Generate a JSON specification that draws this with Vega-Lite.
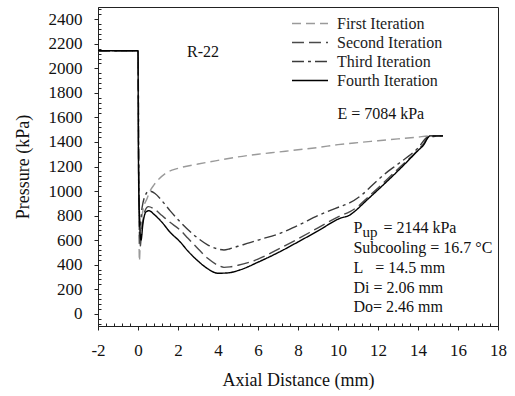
{
  "$schema": "https://vega.github.io/schema/vega-lite/v6.json",
  "width": 400,
  "height": 319,
  "autosize": "none",
  "padding": {"left": 98, "top": 7, "right": 17, "bottom": 70},
  "background": "white",
  "config": {
    "view": {"stroke": "#222", "strokeWidth": 1},
    "font": "Liberation Serif",
    "axis": {
      "grid": false,
      "domainColor": "#222",
      "tickColor": "#222",
      "labelFont": "Liberation Serif",
      "labelFontSize": 17,
      "labelColor": "#111",
      "titleFont": "Liberation Serif",
      "titleFontSize": 18,
      "titleFontWeight": "normal",
      "titleColor": "#111",
      "labelOverlap": false,
      "labelBound": false,
      "labelFlush": false
    }
  },
  "datasets": {
    "curves": [
      {"x": -2, "p": 2144, "s": "First Iteration"},
      {"x": 0, "p": 2144, "s": "First Iteration"},
      {"x": 0.03, "p": 1100, "s": "First Iteration"},
      {"x": 0.07, "p": 430, "s": "First Iteration"},
      {"x": 0.12, "p": 620, "s": "First Iteration"},
      {"x": 0.2, "p": 790, "s": "First Iteration"},
      {"x": 0.3, "p": 880, "s": "First Iteration"},
      {"x": 0.43, "p": 930, "s": "First Iteration"},
      {"x": 0.6, "p": 1000, "s": "First Iteration"},
      {"x": 0.8, "p": 1050, "s": "First Iteration"},
      {"x": 1, "p": 1090, "s": "First Iteration"},
      {"x": 1.43, "p": 1150, "s": "First Iteration"},
      {"x": 2, "p": 1185, "s": "First Iteration"},
      {"x": 3, "p": 1220, "s": "First Iteration"},
      {"x": 4, "p": 1250, "s": "First Iteration"},
      {"x": 5, "p": 1278, "s": "First Iteration"},
      {"x": 6, "p": 1300, "s": "First Iteration"},
      {"x": 7, "p": 1318, "s": "First Iteration"},
      {"x": 8, "p": 1336, "s": "First Iteration"},
      {"x": 9, "p": 1355, "s": "First Iteration"},
      {"x": 10, "p": 1378, "s": "First Iteration"},
      {"x": 11, "p": 1395, "s": "First Iteration"},
      {"x": 12, "p": 1410, "s": "First Iteration"},
      {"x": 13, "p": 1425, "s": "First Iteration"},
      {"x": 14, "p": 1440, "s": "First Iteration"},
      {"x": 14.5, "p": 1449, "s": "First Iteration"},
      {"x": 15.25, "p": 1450, "s": "First Iteration"},

      {"x": -2, "p": 2144, "s": "Second Iteration"},
      {"x": 0, "p": 2144, "s": "Second Iteration"},
      {"x": 0.04, "p": 1000, "s": "Second Iteration"},
      {"x": 0.1, "p": 540, "s": "Second Iteration"},
      {"x": 0.2, "p": 700, "s": "Second Iteration"},
      {"x": 0.35, "p": 840, "s": "Second Iteration"},
      {"x": 0.52, "p": 873, "s": "Second Iteration"},
      {"x": 0.8, "p": 855, "s": "Second Iteration"},
      {"x": 1.2, "p": 800, "s": "Second Iteration"},
      {"x": 1.6, "p": 745, "s": "Second Iteration"},
      {"x": 2.1, "p": 683, "s": "Second Iteration"},
      {"x": 2.5, "p": 615, "s": "Second Iteration"},
      {"x": 3, "p": 530, "s": "Second Iteration"},
      {"x": 3.5, "p": 450, "s": "Second Iteration"},
      {"x": 4, "p": 395, "s": "Second Iteration"},
      {"x": 4.3, "p": 378, "s": "Second Iteration"},
      {"x": 4.6, "p": 382, "s": "Second Iteration"},
      {"x": 5, "p": 395, "s": "Second Iteration"},
      {"x": 6, "p": 445, "s": "Second Iteration"},
      {"x": 7.1, "p": 533, "s": "Second Iteration"},
      {"x": 8, "p": 610, "s": "Second Iteration"},
      {"x": 9, "p": 700, "s": "Second Iteration"},
      {"x": 10.1, "p": 797, "s": "Second Iteration"},
      {"x": 10.6, "p": 832, "s": "Second Iteration"},
      {"x": 11, "p": 875, "s": "Second Iteration"},
      {"x": 11.5, "p": 950, "s": "Second Iteration"},
      {"x": 12, "p": 1025, "s": "Second Iteration"},
      {"x": 13, "p": 1180, "s": "Second Iteration"},
      {"x": 14, "p": 1335, "s": "Second Iteration"},
      {"x": 14.3, "p": 1390, "s": "Second Iteration"},
      {"x": 14.5, "p": 1440, "s": "Second Iteration"},
      {"x": 15.25, "p": 1450, "s": "Second Iteration"},

      {"x": -2, "p": 2144, "s": "Third Iteration"},
      {"x": 0, "p": 2144, "s": "Third Iteration"},
      {"x": 0.05, "p": 1000, "s": "Third Iteration"},
      {"x": 0.1, "p": 720, "s": "Third Iteration"},
      {"x": 0.2, "p": 860, "s": "Third Iteration"},
      {"x": 0.35, "p": 960, "s": "Third Iteration"},
      {"x": 0.55, "p": 1000, "s": "Third Iteration"},
      {"x": 0.85, "p": 980, "s": "Third Iteration"},
      {"x": 1.2, "p": 920, "s": "Third Iteration"},
      {"x": 1.6, "p": 840, "s": "Third Iteration"},
      {"x": 2.1, "p": 750, "s": "Third Iteration"},
      {"x": 2.6, "p": 670, "s": "Third Iteration"},
      {"x": 3, "p": 615, "s": "Third Iteration"},
      {"x": 3.5, "p": 560, "s": "Third Iteration"},
      {"x": 4, "p": 528, "s": "Third Iteration"},
      {"x": 4.3, "p": 520, "s": "Third Iteration"},
      {"x": 4.6, "p": 530, "s": "Third Iteration"},
      {"x": 5, "p": 550, "s": "Third Iteration"},
      {"x": 5.6, "p": 579, "s": "Third Iteration"},
      {"x": 6, "p": 600, "s": "Third Iteration"},
      {"x": 7.1, "p": 655, "s": "Third Iteration"},
      {"x": 8, "p": 720, "s": "Third Iteration"},
      {"x": 9, "p": 800, "s": "Third Iteration"},
      {"x": 10.1, "p": 873, "s": "Third Iteration"},
      {"x": 10.6, "p": 905, "s": "Third Iteration"},
      {"x": 11.2, "p": 970, "s": "Third Iteration"},
      {"x": 11.9, "p": 1076, "s": "Third Iteration"},
      {"x": 12.5, "p": 1160, "s": "Third Iteration"},
      {"x": 13, "p": 1220, "s": "Third Iteration"},
      {"x": 14, "p": 1350, "s": "Third Iteration"},
      {"x": 14.5, "p": 1440, "s": "Third Iteration"},
      {"x": 15.25, "p": 1450, "s": "Third Iteration"},

      {"x": -2, "p": 2144, "s": "Fourth Iteration"},
      {"x": 0, "p": 2144, "s": "Fourth Iteration"},
      {"x": 0.02, "p": 1300, "s": "Fourth Iteration"},
      {"x": 0.07, "p": 800, "s": "Fourth Iteration"},
      {"x": 0.15, "p": 600, "s": "Fourth Iteration"},
      {"x": 0.25, "p": 740, "s": "Fourth Iteration"},
      {"x": 0.4, "p": 830, "s": "Fourth Iteration"},
      {"x": 0.55, "p": 840, "s": "Fourth Iteration"},
      {"x": 0.8, "p": 810, "s": "Fourth Iteration"},
      {"x": 1.2, "p": 745, "s": "Fourth Iteration"},
      {"x": 1.6, "p": 665, "s": "Fourth Iteration"},
      {"x": 2.1, "p": 587, "s": "Fourth Iteration"},
      {"x": 2.5, "p": 510, "s": "Fourth Iteration"},
      {"x": 3, "p": 430, "s": "Fourth Iteration"},
      {"x": 3.5, "p": 365, "s": "Fourth Iteration"},
      {"x": 4, "p": 330, "s": "Fourth Iteration"},
      {"x": 4.5, "p": 333, "s": "Fourth Iteration"},
      {"x": 5.1, "p": 357, "s": "Fourth Iteration"},
      {"x": 6, "p": 420, "s": "Fourth Iteration"},
      {"x": 7.1, "p": 506, "s": "Fourth Iteration"},
      {"x": 8, "p": 585, "s": "Fourth Iteration"},
      {"x": 9, "p": 675, "s": "Fourth Iteration"},
      {"x": 10.1, "p": 778, "s": "Fourth Iteration"},
      {"x": 10.6, "p": 805, "s": "Fourth Iteration"},
      {"x": 10.8, "p": 830, "s": "Fourth Iteration"},
      {"x": 11.5, "p": 935, "s": "Fourth Iteration"},
      {"x": 12, "p": 1010, "s": "Fourth Iteration"},
      {"x": 13, "p": 1165, "s": "Fourth Iteration"},
      {"x": 14, "p": 1330, "s": "Fourth Iteration"},
      {"x": 14.3, "p": 1380, "s": "Fourth Iteration"},
      {"x": 14.5, "p": 1435, "s": "Fourth Iteration"},
      {"x": 14.6, "p": 1450, "s": "Fourth Iteration"},
      {"x": 15.25, "p": 1450, "s": "Fourth Iteration"}
    ],
    "notes": [
      {"x": 2.45, "p": 2093, "t": "R-22"},
      {"x": 9.97, "p": 1589, "t": "E = 7084 kPa"},
      {"x": 10.77, "p": 658, "t": "P"},
      {"x": 12.27, "p": 658, "t": "= 2144 kPa"},
      {"x": 10.77, "p": 495, "t": "Subcooling = 16.7 °C"},
      {"x": 10.77, "p": 332, "t": "L\u00a0\u00a0\u00a0= 14.5 mm"},
      {"x": 10.77, "p": 169, "t": "Di = 2.06 mm"},
      {"x": 10.77, "p": 14, "t": "Do= 2.46 mm"}
    ],
    "subs": [
      {"x": 11.22, "p": 626, "t": "up"}
    ]
  },
  "resolve": {"axis": {"x": "independent", "y": "independent"}},
  "layer": [
    {
      "data": {"name": "curves"},
      "mark": {"type": "line", "interpolate": "monotone", "strokeWidth": 1.4, "clip": true},
      "encoding": {
        "x": {
          "field": "x", "type": "quantitative",
          "scale": {"domain": [-2, 18], "nice": false, "zero": false},
          "axis": {
            "orient": "bottom",
            "title": "Axial Distance (mm)",
            "values": [-2, 0, 2, 4, 6, 8, 10, 12, 14, 16, 18],
            "labelExpr": "'' + datum.value",
            "tickSize": 4,
            "labelPadding": 12,
            "titlePadding": 13
          }
        },
        "y": {
          "field": "p", "type": "quantitative",
          "scale": {"domain": [-100, 2500], "nice": false, "zero": false},
          "axis": {
            "orient": "left",
            "title": "Pressure (kPa)",
            "values": [0, 200, 400, 600, 800, 1000, 1200, 1400, 1600, 1800, 2000, 2200, 2400],
            "labelExpr": "'' + datum.value",
            "tickSize": 4,
            "labelPadding": 12,
            "titlePadding": 16
          }
        },
        "color": {
          "field": "s", "type": "nominal",
          "scale": {
            "domain": ["First Iteration", "Second Iteration", "Third Iteration", "Fourth Iteration"],
            "range": ["#9a9a9a", "#4a4a4a", "#3a3a3a", "#000000"]
          },
          "legend": {
            "title": null,
            "orient": "none",
            "legendX": 193,
            "legendY": 8,
            "symbolType": "stroke",
            "symbolSize": 1300,
            "symbolStrokeWidth": 1.4,
            "labelFont": "Liberation Serif",
            "labelFontSize": 16,
            "labelColor": "#222",
            "labelOffset": 8,
            "clipHeight": 17,
            "rowPadding": 2
          }
        },
        "strokeDash": {
          "field": "s", "type": "nominal",
          "scale": {
            "domain": ["First Iteration", "Second Iteration", "Third Iteration", "Fourth Iteration"],
            "range": [[9, 5], [12, 5], [12, 4, 3, 4], [1, 0]]
          },
          "legend": {
            "title": null,
            "orient": "none",
            "legendX": 193,
            "legendY": 8,
            "symbolType": "stroke",
            "symbolSize": 1300,
            "symbolStrokeWidth": 1.4,
            "labelFont": "Liberation Serif",
            "labelFontSize": 16,
            "labelColor": "#222",
            "labelOffset": 8,
            "clipHeight": 17,
            "rowPadding": 2
          }
        },
        "order": {"field": "x", "type": "quantitative"}
      }
    },
    {
      "data": {"name": "notes"},
      "mark": {"type": "text", "align": "left", "baseline": "alphabetic", "font": "Liberation Serif", "fontSize": 16, "color": "#111"},
      "encoding": {
        "x": {
          "field": "x", "type": "quantitative",
          "axis": {
            "orient": "bottom",
            "title": null,
            "values": [-1.6,-1.2,-0.8,-0.4,0.4,0.8,1.2,1.6,2.4,2.8,3.2,3.6,4.4,4.8,5.2,5.6,6.4,6.8,7.2,7.6,8.4,8.8,9.2,9.6,10.4,10.8,11.2,11.6,12.4,12.8,13.2,13.6,14.4,14.8,15.2,15.6,16.4,16.8,17.2,17.6],
            "labels": false,
            "domain": false,
            "ticks": true,
            "tickColor": "#222",
            "tickWidth": 1,
            "tickSize": 3,
            "offset": -3,
            "zindex": 1
          }
        },
        "y": {
          "field": "p", "type": "quantitative",
          "axis": {
            "orient": "left",
            "title": null,
            "values": [-80,-40,40,80,120,160,240,280,320,360,440,480,520,560,640,680,720,760,840,880,920,960,1040,1080,1120,1160,1240,1280,1320,1360,1440,1480,1520,1560,1640,1680,1720,1760,1840,1880,1920,1960,2040,2080,2120,2160,2240,2280,2320,2360,2440,2480],
            "labels": false,
            "domain": false,
            "ticks": true,
            "tickColor": "#222",
            "tickWidth": 1,
            "tickSize": 3,
            "offset": -3,
            "zindex": 1
          }
        },
        "text": {"field": "t"}
      }
    },
    {
      "data": {"name": "subs"},
      "mark": {"type": "text", "align": "left", "baseline": "alphabetic", "font": "Liberation Serif", "fontSize": 15, "color": "#111"},
      "encoding": {
        "x": {"field": "x", "type": "quantitative", "axis": null},
        "y": {"field": "p", "type": "quantitative", "axis": null},
        "text": {"field": "t"}
      }
    }
  ]
}
